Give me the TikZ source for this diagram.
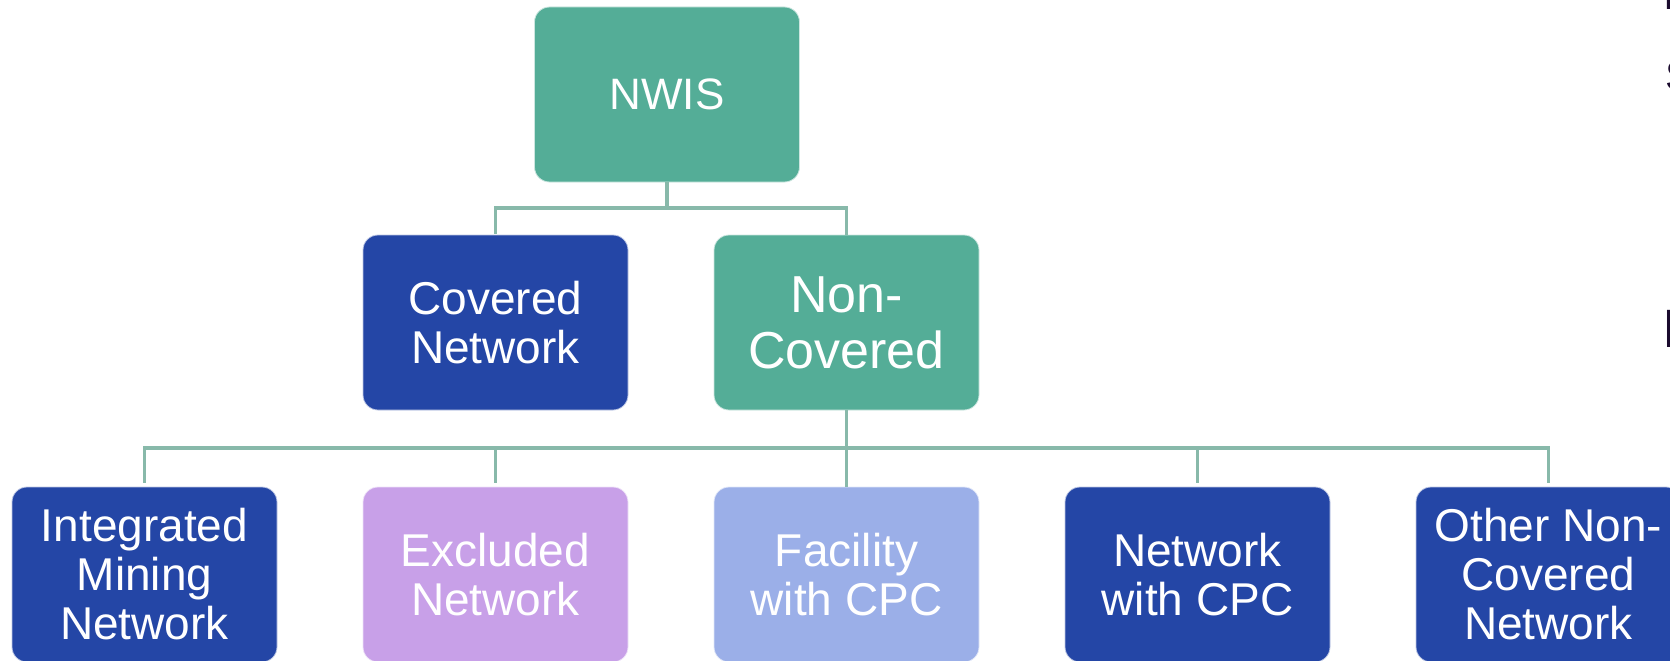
\documentclass[tikz,border=0pt]{standalone}
\usepackage{fontspec}
\setmainfont{Liberation Sans}
\definecolor{tealbox}{HTML}{54AD97}
\definecolor{navybox}{HTML}{2446A6}
\definecolor{lilacbox}{HTML}{C8A0E8}
\definecolor{skybox}{HTML}{9BAFE8}
\definecolor{connline}{HTML}{88B9AA}
\definecolor{slidetext}{HTML}{1B0B2E}
\tikzset{
  orgbox/.style={rounded corners=15pt, minimum width=265pt, minimum height=175pt,
    inner sep=0pt, align=center, text=white, draw=white!70!#1, line width=0.8pt, fill=#1},
  txtA/.style={font=\fontsize{46}{49}\selectfont},
  txtB/.style={font=\fontsize{52}{56}\selectfont},
  txtC/.style={font=\fontsize{44}{48}\selectfont},
  conn/.style={draw=connline, line width=3.5pt},
  edgetext/.style={text=slidetext, inner sep=0pt, anchor=base west}
}
\begin{document}
\begin{tikzpicture}[x=1pt,y=-1pt]
  \useasboundingbox (0,0) rectangle (1670,661);
  \clip (0,0) rectangle (1670,661);

  % top level
  \node[orgbox=tealbox, txtC] (nwis) at (667,94.5) {NWIS};

  % second level
  \node[orgbox=navybox, txtA] (cov) at (495.5,322.5) {Covered\\Network};
  \node[orgbox=tealbox, txtB] (non) at (846.5,322.5) {Non-\\Covered};

  % third level
  \node[orgbox=navybox, txtA] (imn) at (144.5,574.5) {Integrated\\Mining\\Network};
  \node[orgbox=lilacbox, txtA] (exc) at (495.5,574.5) {Excluded\\Network};
  \node[orgbox=skybox, txtA] (fac) at (846.5,574.5) {Facility\\with CPC};
  \node[orgbox=navybox, txtA] (ncp) at (1197.5,574.5) {Network\\with CPC};
  \node[orgbox=navybox, txtA] (oth) at (1548.5,574.5) {Other Non-\\Covered\\Network};

  % connectors
  \coordinate (j1) at (667,208);
  \coordinate (j2) at (846.5,448);
  \draw[conn] (nwis.south) -- (j1);
  \draw[conn, shorten <=1pt] (cov.north) |- (j1) -| (non.north);
  \draw[conn] (non.south) -- (fac.north);
  \draw[conn, shorten <=4pt, shorten >=4pt] (imn.north) |- (j2) -| (oth.north);
  \draw[conn, shorten <=4pt] (exc.north) -- (exc.north |- j2);
  \draw[conn, shorten <=4pt] (ncp.north) -- (ncp.north |- j2);

  % slide text running past the right edge
  \node[edgetext, font=\fontsize{42}{42}\selectfont] (e1) at (1663,10) {I};
  \node[edgetext, font=\fontsize{42}{42}\selectfont] (e2) at (1665,90) {S};
  \node[edgetext, font=\fontsize{54}{54}\selectfont] (e3) at (1662,347) {I};
\end{tikzpicture}
\end{document}
